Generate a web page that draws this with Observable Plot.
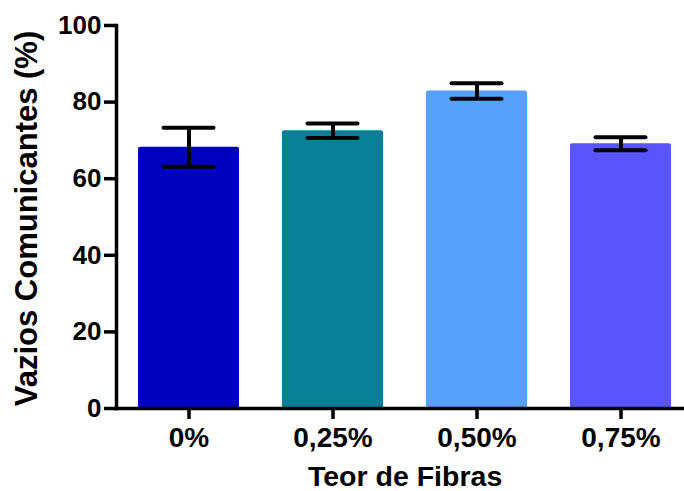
<!DOCTYPE html>
<html>
<head>
<meta charset="utf-8">
<script src="https://cdn.jsdelivr.net/npm/d3@7"></script>
<script src="https://cdn.jsdelivr.net/npm/@observablehq/plot@0.6"></script>
<style>
  html, body { margin: 0; padding: 0; background: #fff; }
  #chart { width: 684px; height: 491px; }
</style>
</head>
<body>
<div id="chart"></div>
<script>
const categories = ["0%", "0,25%", "0,50%", "0,75%"];
const means = [68.2, 72.5, 82.9, 69.1];
const errors = [5.1, 1.9, 2.0, 1.7];
const colors = ["#0000C0", "#087F96", "#56A1FE", "#5955FA"];
const yTicks = [0, 20, 40, 60, 80, 100];
const xLabel = "Teor de Fibras";
const yLabel = "Vazios Comunicantes (%)";

const data = categories.map((c, i) => ({cat: c, mean: means[i], err: errors[i]}));
const font = "'Liberation Sans', Arial, sans-serif";

const chart = Plot.plot({
  width: 684,
  height: 491,
  marginLeft: 116,
  marginRight: 0,
  marginTop: 25,
  marginBottom: 83,
  style: {fontFamily: font, background: "white", color: "black", overflow: "visible"},
  x: {domain: categories, range: [116.2, 692.6], paddingInner: 0.3, paddingOuter: 0.15, axis: null},
  y: {domain: [0, 100], axis: null},
  color: {domain: categories, range: colors},
  marks: [
    Plot.barY(data, {x: "cat", y: "mean", fill: "cat", rx: 2}),
    Plot.ruleX(data, {x: "cat", y1: d => d.mean - d.err, y2: d => d.mean + d.err, stroke: "black", strokeWidth: 4}),
    Plot.tickY(data, {x: "cat", y: d => d.mean + d.err, stroke: "black", strokeWidth: 4, insetLeft: 25.5, insetRight: 25.5, strokeLinecap: "round"}),
    Plot.tickY(data, {x: "cat", y: d => d.mean - d.err, stroke: "black", strokeWidth: 4, insetLeft: 25.5, insetRight: 25.5, strokeLinecap: "round"}),
    Plot.axisY({ticks: yTicks, tickSize: 12, tickPadding: 3, strokeWidth: 3.5, fontSize: 26, fontWeight: "bold", label: null}),
    Plot.axisX({tickSize: 11, tickPadding: 8, strokeWidth: 3.5, fontSize: 28, fontWeight: "bold", label: null}),
    Plot.frame({anchor: "left", strokeWidth: 3.5}),
    Plot.frame({anchor: "bottom", strokeWidth: 3.5}),
    Plot.text([xLabel], {frameAnchor: "bottom", text: d => d, textAnchor: "middle", dx: 4.6, dy: 77, lineAnchor: "bottom", fontSize: 28.5, fontWeight: "bold"}),
    Plot.text([yLabel], {frameAnchor: "left", text: d => d, textAnchor: "middle", rotate: -90, dx: -79.5, dy: 1.5, lineAnchor: "bottom", fontSize: 31, fontWeight: "bold"})
  ]
});
document.getElementById("chart").append(chart);
</script>
</body>
</html>
